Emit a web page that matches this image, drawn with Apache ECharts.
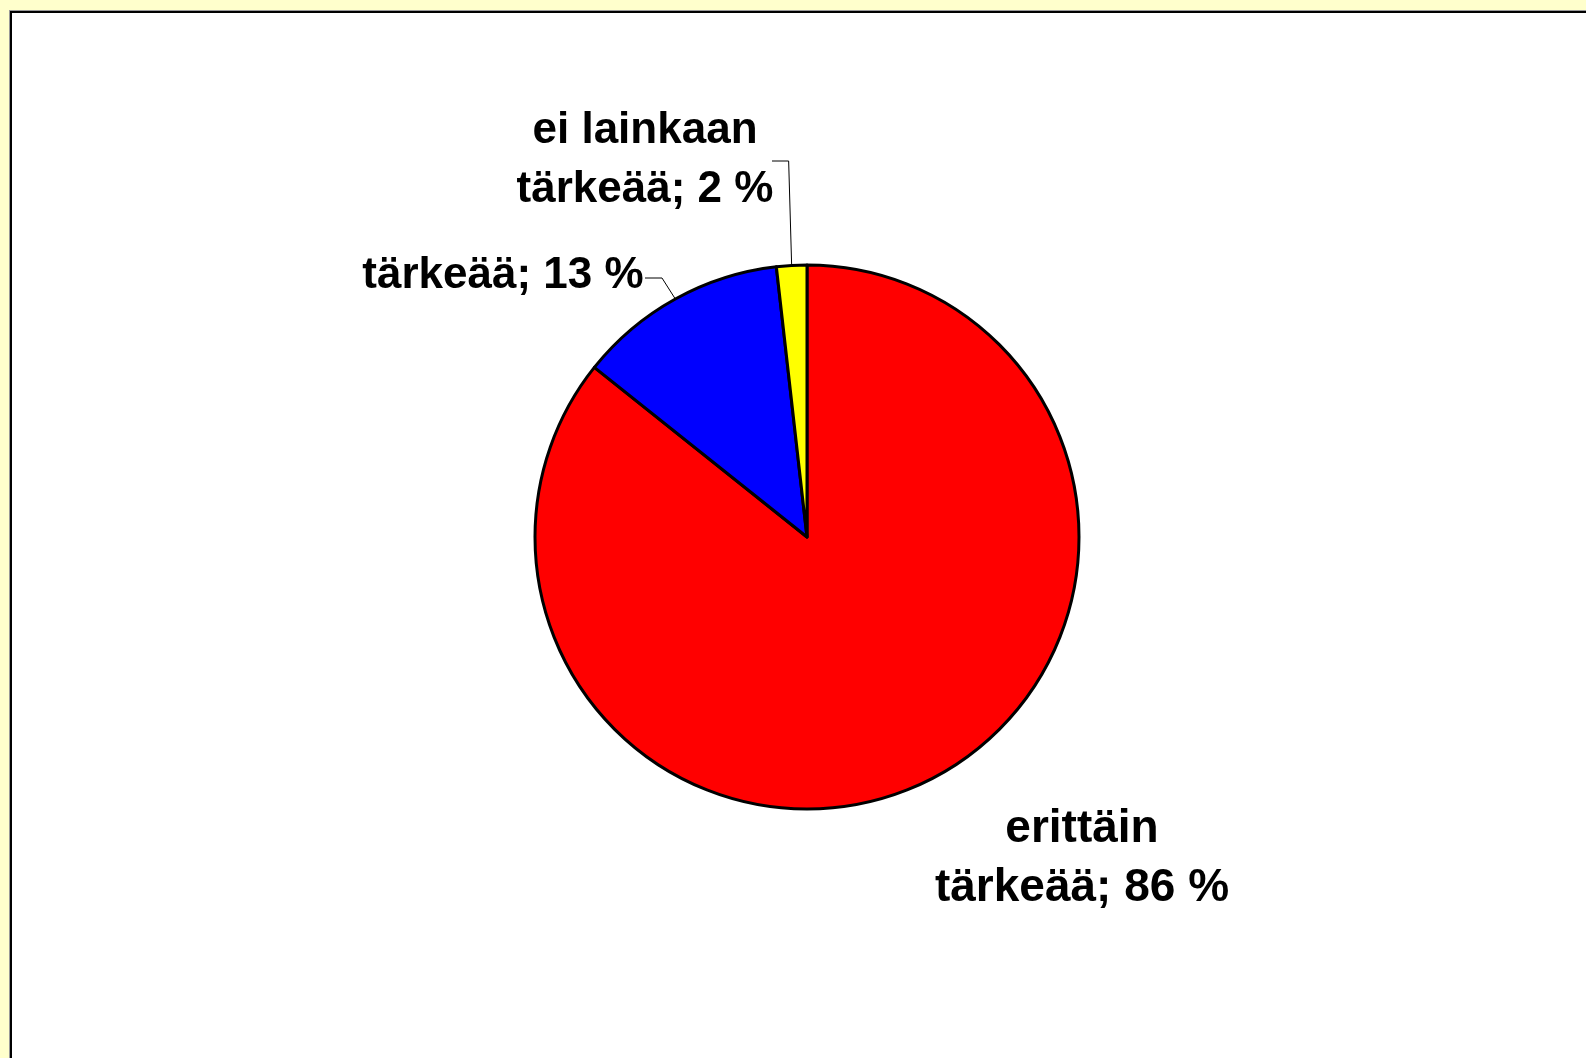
<!DOCTYPE html>
<html>
<head>
<meta charset="utf-8">
<script src="https://cdn.jsdelivr.net/npm/echarts@6/dist/echarts.min.js"></script>
<style>
html,body{margin:0;padding:0;width:1586px;height:1058px;overflow:hidden;background:#FFFFCC;}
#frame{position:absolute;left:10px;top:11px;width:1600px;height:1100px;background:#fff;border-left:2px solid #000;border-top:2px solid #000;box-shadow:-1px -1px 0 #999;}
#chart{position:absolute;left:0;top:0;width:1586px;height:1058px;}
</style>
</head>
<body>
<div id="frame"></div>
<div id="chart"></div>
<script>
// Data
const categories = ['erittäin tärkeää', 'tärkeää', 'ei lainkaan tärkeää'];
const labelTexts = ['erittäin\ntärkeää; 86 %', 'tärkeää; 13 %', 'ei lainkaan\ntärkeää; 2 %'];
const values = [85.8, 12.5, 1.8];
const colors = ['#FF0000', '#0000FF', '#FFFF00'];

const cx = 807, cy = 537, R = 272;
// label placement relative to pie centre
const labelPos = [
  {x: cx + 275, y: cy + 322, line: false, size: 46},
  {x: cx - 304, y: cy - 261, line: true, size: 44},
  {x: cx - 162, y: cy - 377, line: true, size: 44}
];

const chart = echarts.init(document.getElementById('chart'), null, {renderer: 'canvas'});
const option = {
  backgroundColor: 'transparent',
  animation: false,
  series: [{
    type: 'pie',
    center: [cx, cy],
    radius: R,
    startAngle: 90,
    clockwise: true,
    data: categories.map((c, i) => ({
      name: c,
      value: values[i],
      itemStyle: {color: colors[i]},
      label: {fontSize: labelPos[i].size},
      labelLine: {show: labelPos[i].line}
    })),
    itemStyle: {borderColor: '#000', borderWidth: 3},
    label: {
      show: true,
      position: 'outside',
      formatter: p => labelTexts[p.dataIndex],
      color: '#000',
      fontFamily: "'Liberation Sans', Arial, sans-serif",
      fontWeight: 'bold',
      fontSize: 44,
      lineHeight: 59
    },
    labelLine: {show: true, lineStyle: {color: '#000', width: 1}},
    labelLayout: function (params) {
      const i = params.dataIndex;
      const lp = labelPos[i];
      const out = {x: lp.x, y: lp.y, align: 'center', verticalAlign: 'middle'};
      const p0 = params.labelLinePoints ? params.labelLinePoints[0] : null;
      if (lp.line && p0) {
        if (i === 2) {
          out.labelLinePoints = [p0, [p0[0] - 3, cy - 376], [cx - 35, cy - 376]];
        } else if (i === 1) {
          out.labelLinePoints = [p0, [cx - 145, cy - 259], [cx - 162, cy - 259]];
        }
      }
      return out;
    }
  }]
};
chart.setOption(option);
</script>
</body>
</html>
